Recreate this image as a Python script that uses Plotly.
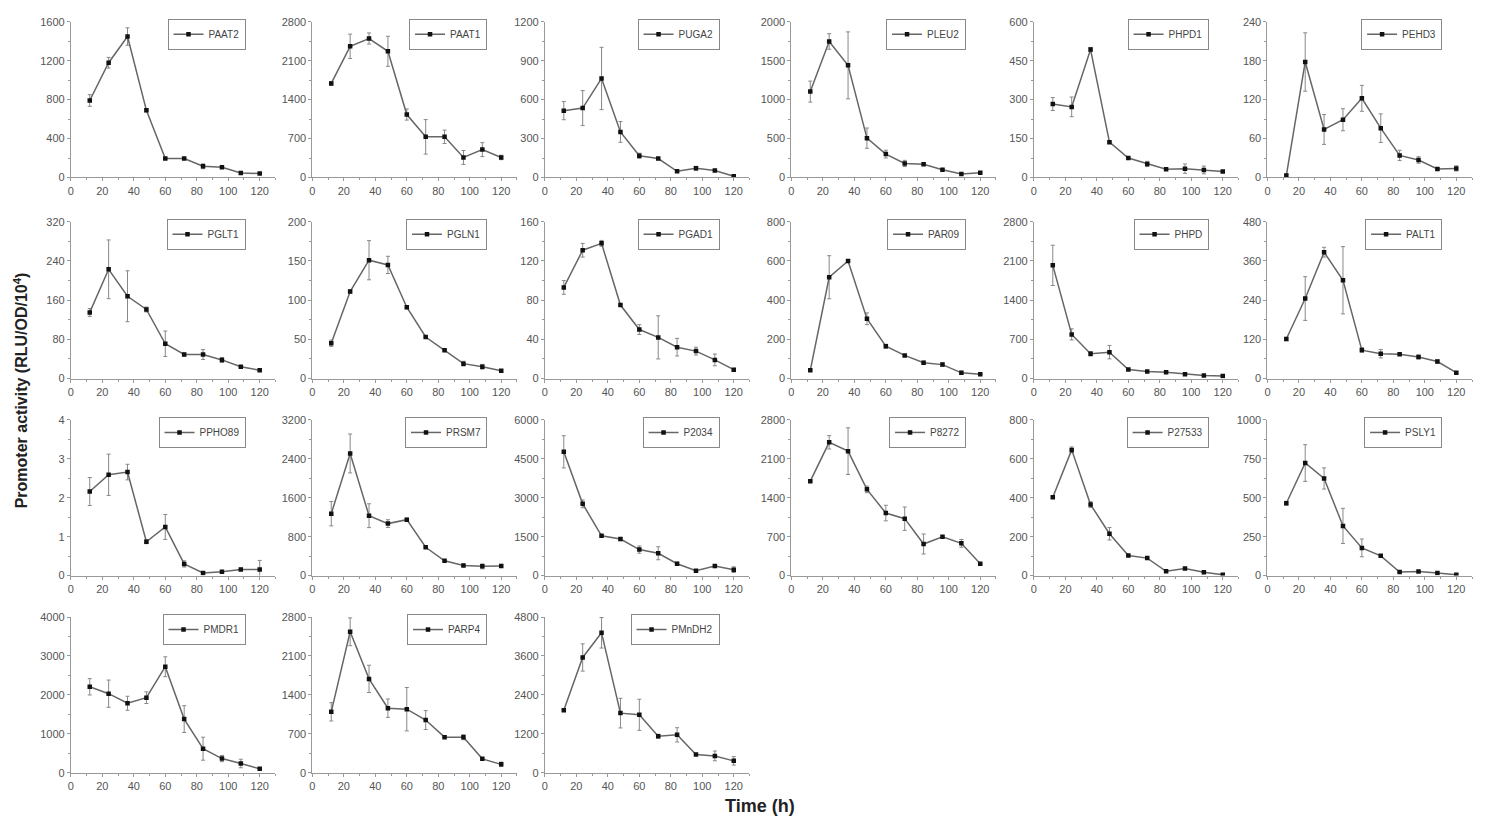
import plotly.graph_objects as go

time_h = [12, 24, 36, 48, 60, 72, 84, 96, 108, 120]
x_ticks = [0, 20, 40, 60, 80, 100, 120]

names = ["PAAT2", "PAAT1", "PUGA2", "PLEU2", "PHPD1", "PEHD3",
         "PGLT1", "PGLN1", "PGAD1", "PAR09", "PHPD", "PALT1",
         "PPHO89", "PRSM7", "P2034", "P8272", "P27533", "PSLY1",
         "PMDR1", "PARP4", "PMnDH2"]
y_max = [1600, 2800, 1200, 2000, 600, 240,
         320, 200, 160, 800, 2800, 480,
         4, 3200, 6000, 2800, 800, 1000,
         4000, 2800, 4800]

PAAT2 = [791, 1179, 1448, 690, 195, 195, 115, 104, 47, 40]
PAAT2_err = [60, 55, 90, 15, 8, 8, 25, 10, 15, 8]
PAAT1 = [1692, 2358, 2499, 2269, 1132, 731, 731, 360, 501, 360]
PAAT1_err = [30, 220, 100, 270, 100, 310, 120, 125, 125, 40]
PUGA2 = [515, 535, 763, 351, 167, 146, 48, 71, 53, 10]
PUGA2_err = [70, 135, 240, 80, 20, 8, 8, 15, 8, 5]
PLEU2 = [1103, 1747, 1440, 505, 300, 180, 170, 100, 45, 60]
PLEU2_err = [135, 100, 430, 130, 50, 40, 10, 10, 8, 10]
PHPD1 = [283, 272, 493, 136, 75, 52, 32, 34, 29, 23]
PHPD1_err = [25, 38, 8, 5, 4, 10, 4, 18, 15, 4]
PEHD3 = [3, 178, 74, 89, 122, 76, 34, 27, 13, 14]
PEHD3_err = [2, 45, 23, 17, 20, 22, 8, 5, 2, 4]

PGLT1 = [135, 223, 168, 141, 71, 49, 49, 38, 24, 17]
PGLT1_err = [8, 60, 52, 5, 26, 3, 10, 5, 2, 2]
PGLN1 = [45, 111, 151, 145, 91, 53, 36, 19, 15, 10]
PGLN1_err = [4, 2, 25, 11, 2, 1, 1, 3, 3, 1]
PGAD1 = [93, 131, 138, 75, 50, 42, 32, 28, 19, 9]
PGAD1_err = [7, 7, 3, 1, 5, 22, 9, 4, 6, 1]
PAR09 = [42, 517, 600, 305, 165, 118, 81, 71, 29, 22]
PAR09_err = [3, 110, 5, 30, 10, 5, 8, 8, 8, 3]
PHPD = [2022, 788, 442, 471, 159, 124, 112, 77, 53, 47]
PHPD_err = [360, 100, 40, 120, 10, 8, 8, 8, 5, 5]
PALT1 = [121, 245, 387, 301, 87, 76, 74, 66, 52, 18]
PALT1_err = [5, 67, 15, 103, 7, 13, 3, 6, 5, 3]

PPHO89 = [2.16, 2.59, 2.66, 0.87, 1.25, 0.30, 0.07, 0.10, 0.16, 0.16]
PPHO89_err = [0.36, 0.53, 0.2, 0.05, 0.32, 0.08, 0.02, 0.02, 0.03, 0.23]
PRSM7 = [1272, 2510, 1231, 1069, 1150, 582, 304, 210, 190, 200]
PRSM7_err = [250, 400, 245, 80, 30, 10, 10, 25, 50, 30]
P2034 = [4770, 2765, 1535, 1408, 1002, 862, 457, 190, 368, 228]
P2034_err = [620, 150, 20, 60, 140, 250, 60, 20, 60, 110]
P8272 = [1699, 2397, 2238, 1551, 1125, 1024, 568, 699, 580, 213]
P8272_err = [10, 120, 420, 60, 140, 210, 180, 15, 70, 10]
P27533 = [403, 646, 365, 215, 103, 90, 22, 36, 17, 5]
P27533_err = [5, 15, 15, 32, 3, 3, 2, 3, 2, 2]
PSLY1 = [465, 723, 624, 319, 178, 127, 23, 27, 17, 6]
PSLY1_err = [12, 118, 68, 113, 57, 5, 3, 5, 5, 2]

PMDR1 = [2207, 2030, 1784, 1928, 2723, 1378, 617, 364, 237, 101]
PMDR1_err = [210, 350, 180, 150, 255, 345, 295, 80, 110, 10]
PARP4 = [1095, 2534, 1687, 1160, 1142, 947, 639, 639, 249, 150]
PARP4_err = [165, 250, 245, 165, 390, 170, 5, 45, 5, 40]
PMnDH2 = [1928, 3552, 4313, 1837, 1786, 1126, 1167, 558, 518, 365]
PMnDH2_err = [20, 420, 470, 457, 480, 60, 220, 20, 150, 130]

means = [PAAT2, PAAT1, PUGA2, PLEU2, PHPD1, PEHD3,
         PGLT1, PGLN1, PGAD1, PAR09, PHPD, PALT1,
         PPHO89, PRSM7, P2034, P8272, P27533, PSLY1,
         PMDR1, PARP4, PMnDH2]
errs = [PAAT2_err, PAAT1_err, PUGA2_err, PLEU2_err, PHPD1_err, PEHD3_err,
        PGLT1_err, PGLN1_err, PGAD1_err, PAR09_err, PHPD_err, PALT1_err,
        PPHO89_err, PRSM7_err, P2034_err, P8272_err, P27533_err, PSLY1_err,
        PMDR1_err, PARP4_err, PMnDH2_err]

# layout geometry (pixels)
W, H = 1485, 827
col_left = [68, 310, 543, 790, 1033, 1267]
ax_w = 205
rows = [(16, 174), (219, 378), (420, 578), (620, 778)]

fig = go.Figure()
layout = dict(width=W, height=H, margin=dict(l=0, r=0, t=0, b=0),
              plot_bgcolor="white", paper_bgcolor="white", showlegend=True,
              font=dict(family="Liberation Sans, Arial", size=11, color="#555"))

axis_col = "#999"
for i, name in enumerate(names):
    r, c = divmod(i, 6)
    k = i + 1
    sfx = "" if k == 1 else str(k)
    x0 = col_left[c] / W
    x1 = (col_left[c] + ax_w) / W
    top, bot = rows[r]
    y0 = 1 - bot / H
    y1 = 1 - top / H
    lg = "legend" if k == 1 else f"legend{k}"
    fig.add_trace(go.Scatter(
        x=time_h, y=means[i], name=name, mode="lines+markers",
        xaxis="x" + sfx, yaxis="y" + sfx, legend=lg, showlegend=True,
        line=dict(color="#666", width=1.5),
        marker=dict(symbol="square", size=4.5, color="#111"),
        error_y=dict(type="data", array=errs[i], color="#888", thickness=1, width=2),
    ))
    layout["xaxis" + sfx] = dict(
        domain=[x0, x1], anchor="y" + sfx, range=[0, 130],
        tickvals=x_ticks, showgrid=False, zeroline=False,
        showline=True, linecolor=axis_col, linewidth=1,
        ticks="outside", ticklen=3, tickcolor=axis_col,
        minor=dict(dtick=10, ticks="outside", ticklen=2, tickcolor=axis_col),
        tickfont=dict(size=11, color="#555"),
    )
    layout["yaxis" + sfx] = dict(
        domain=[y0, y1], anchor="x" + sfx, range=[0, y_max[i]],
        dtick=y_max[i] / 4, tick0=0, showgrid=False, zeroline=False,
        showline=True, linecolor=axis_col, linewidth=1,
        ticks="outside", ticklen=3, tickcolor=axis_col,
        minor=dict(dtick=y_max[i] / 8, ticks="outside", ticklen=2, tickcolor=axis_col),
        tickfont=dict(size=11, color="#555"),
    )
    layout[lg] = dict(
        x=(col_left[c] + 175) / W, y=1 - (top - 3) / H,
        xanchor="right", yanchor="top", xref="paper", yref="paper",
        bgcolor="white", bordercolor="#888", borderwidth=1,
        font=dict(size=10, color="#444"), itemwidth=30,
        itemclick=False, itemdoubleclick=False,
    )

layout["annotations"] = [
    dict(text="<b>Promoter activity (RLU/OD/10<sup>4</sup>)</b>", x=18 / W, y=1 - 390 / H,
         xref="paper", yref="paper", xanchor="center", yanchor="middle",
         textangle=-90, showarrow=False,
         font=dict(size=16, color="#222")),
    dict(text="<b>Time (h)</b>", x=759 / W, y=1 - 812 / H,
         xref="paper", yref="paper", xanchor="center", yanchor="middle",
         showarrow=False,
         font=dict(size=18, color="#222")),
]
fig.update_layout(**layout)
fig.write_html("out.html")
